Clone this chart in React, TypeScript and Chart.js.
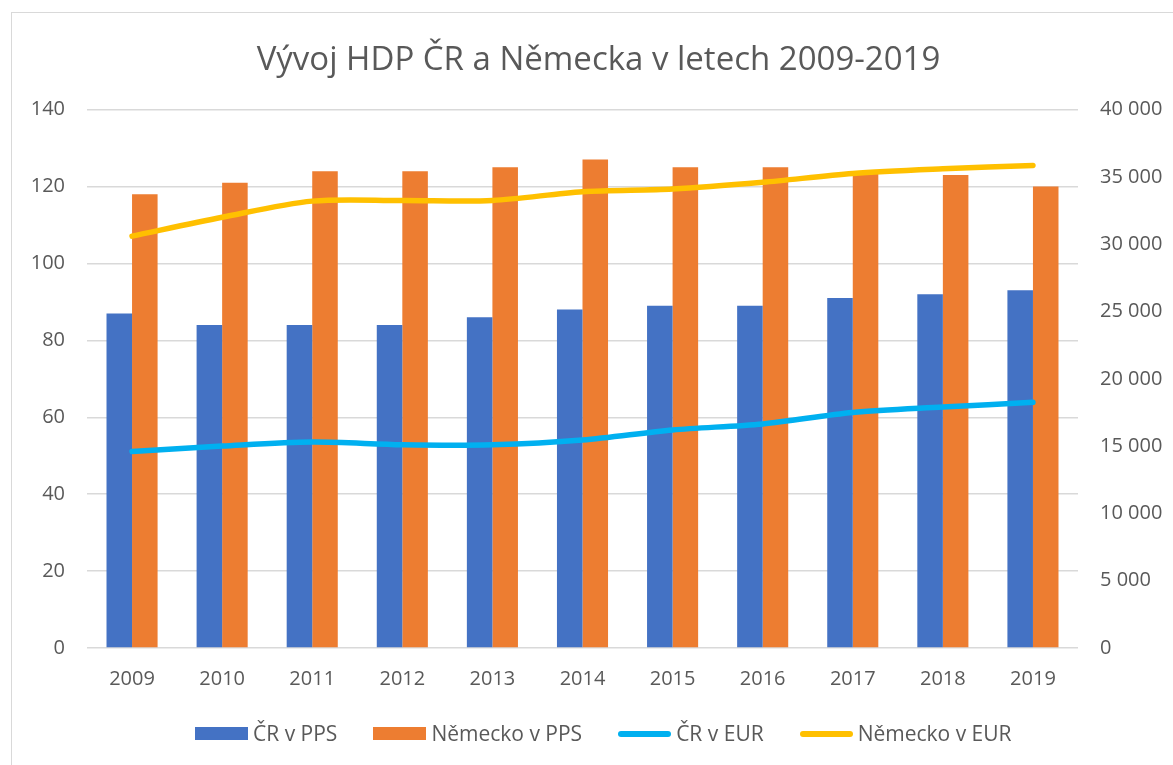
import React, { useEffect, useRef } from "react";
import { Chart, registerables } from "chart.js";

Chart.register(...registerables);

const categories = ["2009", "2010", "2011", "2012", "2013", "2014", "2015", "2016", "2017", "2018", "2019"];
const crPps = [87, 84, 84, 84, 86, 88, 89, 89, 91, 92, 93];
const dePps = [118, 121, 124, 124, 125, 127, 125, 125, 124, 123, 120];
const crEur = [14600, 15000, 15300, 15100, 15100, 15450, 16200, 16650, 17500, 17900, 18250];
const deEur = [30600, 32000, 33200, 33250, 33250, 33900, 34100, 34600, 35250, 35600, 35850];

const seriesNames = ["ČR v PPS", "Německo v PPS", "ČR v EUR", "Německo v EUR"];
const seriesColors = ["#4472C4", "#ED7D31", "#00B0F0", "#FFC000"];
const titleText = "Vývoj HDP ČR a Německa v letech 2009-2019";

const FONT = "'Open Sans', 'Liberation Sans', sans-serif";
const TEXT = "#595959";
const GRID = "#D9D9D9";

function fmtThousands(v: number): string {
  return String(v).replace(/\B(?=(\d{3})+(?!\d))/g, " ");
}

export default function App() {
  const ref = useRef<HTMLCanvasElement | null>(null);

  useEffect(() => {
    if (!ref.current) return;
    const chart = new Chart(ref.current, {
      type: "bar",
      data: {
        labels: categories,
        datasets: [
          {
            type: "bar",
            label: seriesNames[0],
            data: crPps,
            backgroundColor: seriesColors[0],
            yAxisID: "y",
            order: 2,
            barPercentage: 1,
            categoryPercentage: 0.567,
          },
          {
            type: "bar",
            label: seriesNames[1],
            data: dePps,
            backgroundColor: seriesColors[1],
            yAxisID: "y",
            order: 2,
            barPercentage: 1,
            categoryPercentage: 0.567,
          },
          {
            type: "line",
            label: seriesNames[2],
            data: crEur,
            borderColor: seriesColors[2],
            backgroundColor: seriesColors[2],
            borderWidth: 5.5,
            borderCapStyle: "round",
            borderJoinStyle: "round",
            pointRadius: 0,
            tension: 0.3,
            yAxisID: "y1",
            order: 1,
          },
          {
            type: "line",
            label: seriesNames[3],
            data: deEur,
            borderColor: seriesColors[3],
            backgroundColor: seriesColors[3],
            borderWidth: 5.5,
            borderCapStyle: "round",
            borderJoinStyle: "round",
            pointRadius: 0,
            tension: 0.3,
            yAxisID: "y1",
            order: 1,
          },
        ],
      },
      options: {
        responsive: false,
        maintainAspectRatio: false,
        animation: false,
        layout: { padding: { left: 24, right: 0, top: 0, bottom: 0 } },
        plugins: {
          legend: { display: false },
          tooltip: { enabled: false },
          title: {
            display: true,
            text: titleText,
            color: TEXT,
            font: { family: FONT, size: 33, weight: "normal" },
            padding: { top: 41, bottom: 29 },
          },
        },
        scales: {
          x: {
            grid: { display: false, drawTicks: false },
            border: { display: false },
            ticks: { color: TEXT, font: { family: FONT, size: 20 }, padding: 19, maxRotation: 0 },
            afterFit: (s: any) => {
              s.height = 117;
            },
          },
          y: {
            position: "left",
            min: 0,
            max: 140,
            grid: { color: GRID, lineWidth: 1.5, drawTicks: false },
            border: { display: false },
            ticks: { stepSize: 20, color: TEXT, font: { family: FONT, size: 20 }, padding: 22 },
            afterFit: (s: any) => {
              s.width = 63;
            },
          },
          y1: {
            position: "right",
            min: 0,
            max: 40000,
            grid: { display: false, drawTicks: false },
            border: { display: false },
            ticks: {
              stepSize: 5000,
              color: TEXT,
              font: { family: FONT, size: 20 },
              padding: 22,
              callback: (v: any) => fmtThousands(Number(v)),
            },
            afterFit: (s: any) => {
              s.width = 95;
            },
          },
        },
      },
    } as any);
    return () => chart.destroy();
  }, []);

  const markerStyle = (i: number): React.CSSProperties =>
    i < 2
      ? { width: 53, height: 13, background: seriesColors[i], flex: "0 0 auto" }
      : { width: 53, height: 6, borderRadius: 3, background: seriesColors[i], flex: "0 0 auto" };

  return (
    <div
      style={{
        position: "absolute",
        left: 0,
        top: 0,
        width: 1173,
        height: 765,
        overflow: "hidden",
        background: "#ffffff",
      }}
    >
      <div
        style={{
          position: "absolute",
          left: 11,
          top: 12,
          width: 1200,
          height: 800,
          border: "1.5px solid #D9D9D9",
          boxSizing: "border-box",
        }}
      />
      <canvas ref={ref} width={1173} height={765} style={{ position: "absolute", left: 0, top: 0 }} />
      <div
        style={{
          position: "absolute",
          left: 195,
          top: 720,
          height: 27,
          display: "flex",
          alignItems: "center",
          gap: 36,
          fontFamily: FONT,
          fontSize: 21,
          color: TEXT,
          whiteSpace: "nowrap",
        }}
      >
        {seriesNames.map((n, i) => (
          <div key={n} style={{ display: "flex", alignItems: "center", gap: 5 }}>
            <span style={markerStyle(i)} />
            <span style={{ lineHeight: "27px" }}>{n}</span>
          </div>
        ))}
      </div>
    </div>
  );
}
